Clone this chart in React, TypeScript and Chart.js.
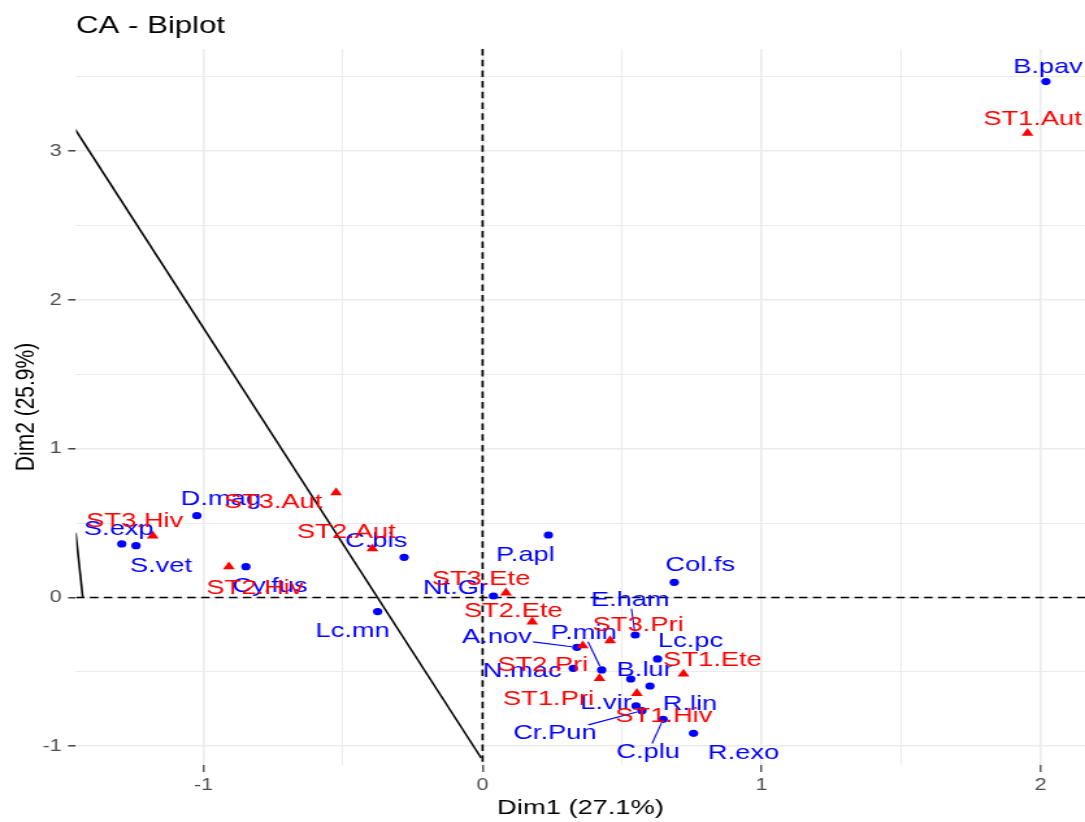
import { useEffect, useRef } from "react";
import { Chart, registerables } from "chart.js";

Chart.register(...registerables);

// The canvas is drawn at a narrower internal width and shown stretched to 1085px.
const CANVAS_W = 835;
const CANVAS_H = 822;
const SX = 1085 / CANVAS_W;

const FONT = '"Liberation Sans", Arial, Helvetica, sans-serif';

// Row points (species): coordinates on Dim1 / Dim2
const rowNames = [
  "B.pav", "D.mag", "S.exp", "S.vet", "Cy.fus", "C.bis", "Lc.mn", "Nt.Gr", "P.apl", "Col.fs", "E.ham",
  "A.nov", "P.min", "N.mac", "B.lur", "Lc.pc", "R.lin", "L.vir", "Cr.Pun", "C.plu", "R.exo",
];
const rowDim1 = [
  2.019, -1.024, -1.293, -1.242, -0.848, -0.281, -0.376, 0.039, 0.236, 0.687, 0.547,
  0.338, 0.427, 0.325, 0.531, 0.627, 0.6, 0.55, 0.571, 0.647, 0.756,
];
const rowDim2 = [
  3.468, 0.55, 0.36, 0.348, 0.207, 0.27, -0.095, 0.01, 0.42, 0.102, -0.252,
  -0.335, -0.487, -0.476, -0.548, -0.413, -0.595, -0.729, -0.761, -0.819, -0.913,
];

// Column points (station x season)
const colNames = [
  "ST1.Aut", "ST3.Aut", "ST3.Hiv", "ST2.Hiv", "ST2.Aut", "ST3.Ete", "ST2.Ete", "ST3.Pri",
  "ST2.Pri", "ST1.Pri", "ST1.Hiv", "ST1.Ete",
];
const colDim1 = [1.953, -0.525, -1.182, -0.909, -0.395, 0.084, 0.178, 0.457, 0.359, 0.419, 0.553, 0.72];
const colDim2 = [3.121, 0.705, 0.415, 0.207, 0.328, 0.032, -0.163, -0.29, -0.324, -0.543, -0.644, -0.514];

// Two reference segments (Dim1, Dim2 end points)
const segA_x = [-1.461, -0.005];
const segA_y = [3.15, -1.079];
const segB_x = [-1.458, -1.433];
const segB_y = [0.434, 0.003];

// Axis extents and tick values
const X_RANGE = [-1.457, 2.159];
const Y_RANGE = [-1.126, 3.687];
const xGridValues = [-1, -0.5, 0, 0.5, 1, 1.5, 2];
const yGridValues = [-1, -0.5, 0, 0.5, 1, 1.5, 2, 2.5, 3, 3.5];

// Repelled label placement: offset of label centre from its point (screen px)
const rowLabelOffset: Record<string, [number, number]> = {
  "B.pav": [2, -14], "D.mag": [24, -16], "S.exp": [-3, -15], "S.vet": [25, 20], "Cy.fus": [24, 20],
  "C.bis": [-28, -16], "Lc.mn": [-25, 20], "Nt.Gr": [-38, -8], "P.apl": [-23, 20], "Col.fs": [26, -17],
  "E.ham": [-5, -35], "A.nov": [-80, -10], "P.min": [-18, -37], "N.mac": [-51, 3], "B.lur": [14, -9],
  "Lc.pc": [33, -18], "R.lin": [40, 18], "L.vir": [-30, -3], "Cr.Pun": [-87, 23], "C.plu": [-15, 33],
  "R.exo": [50, 20],
};
const colLabelOffset: Record<string, [number, number]> = {
  "ST1.Aut": [5, -14], "ST3.Aut": [-63, 10], "ST3.Hiv": [-18, -15], "ST2.Hiv": [26, 22],
  "ST2.Aut": [-26, -16], "ST3.Ete": [-25, -14], "ST2.Ete": [-19, -11], "ST3.Pri": [28, -15],
  "ST2.Pri": [-40, 20], "ST1.Pri": [-51, 21], "ST1.Hiv": [27, 23], "ST1.Ete": [29, -14],
};
const withLeader = new Set(["E.ham", "A.nov", "P.min", "Cr.Pun", "C.plu"]);

const ROW_COLOR = "#0000FF";
const COL_COLOR = "#FF0000";
const LABEL_SIZE = 21;

const isMajor = (v: number) => Math.abs(v - Math.round(v)) < 1e-9;

function drawLabels(chart: any, names: string[], xs: number[], ys: number[], offs: Record<string, [number, number]>, color: string) {
  const { ctx, scales } = chart;
  ctx.save();
  ctx.font = `${LABEL_SIZE}px ${FONT}`;
  ctx.fillStyle = color;
  ctx.strokeStyle = color;
  ctx.lineWidth = 1.1;
  ctx.textAlign = "center";
  ctx.textBaseline = "middle";
  names.forEach((name, i) => {
    const px = scales.x.getPixelForValue(xs[i]);
    const py = scales.y.getPixelForValue(ys[i]);
    const off = offs[name] || [0, 0];
    const lx = px + off[0] / SX;
    const ly = py + off[1];
    if (withLeader.has(name)) {
      const hw = ctx.measureText(name).width / 2 + 1;
      const hh = LABEL_SIZE * 0.42;
      const dx = px - lx;
      const dy = py - ly;
      const t = Math.min(dx !== 0 ? hw / Math.abs(dx) : Infinity, dy !== 0 ? hh / Math.abs(dy) : Infinity);
      const sx = lx + dx * t;
      const sy = ly + dy * t;
      const len = Math.hypot(dx, dy);
      const ex = px - (dx / len) * 4;
      const ey = py - (dy / len) * 4;
      ctx.beginPath();
      ctx.moveTo(sx, sy);
      ctx.lineTo(ex, ey);
      ctx.stroke();
    }
    ctx.fillText(name, lx, ly);
  });
  ctx.restore();
}

const biplotDecor = {
  id: "biplotDecor",
  beforeDatasetsDraw(chart: any) {
    const { ctx, chartArea: a, scales } = chart;
    const x0 = scales.x.getPixelForValue(0);
    const y0 = scales.y.getPixelForValue(0);
    ctx.save();
    ctx.beginPath();
    ctx.rect(a.left, a.top, a.right - a.left, a.bottom - a.top);
    ctx.clip();
    ctx.strokeStyle = "#000";
    ctx.lineWidth = 1.7;
    ctx.setLineDash([6.5, 4.2]);
    ctx.beginPath();
    ctx.moveTo(x0, a.top);
    ctx.lineTo(x0, a.bottom);
    ctx.stroke();
    ctx.beginPath();
    ctx.moveTo(a.left, y0);
    ctx.lineTo(a.right, y0);
    ctx.stroke();
    ctx.restore();
  },
  afterDatasetsDraw(chart: any) {
    drawLabels(chart, rowNames, rowDim1, rowDim2, rowLabelOffset, ROW_COLOR);
    drawLabels(chart, colNames, colDim1, colDim2, colLabelOffset, COL_COLOR);
  },
  afterDraw(chart: any) {
    const { ctx, chartArea } = chart;
    ctx.save();
    ctx.font = `24px ${FONT}`;
    ctx.fillStyle = "#000";
    ctx.textAlign = "left";
    ctx.textBaseline = "alphabetic";
    ctx.fillText("CA - Biplot", chartArea.left, 33);
    ctx.restore();
  },
};

export default function App() {
  const canvasRef = useRef<HTMLCanvasElement>(null);

  useEffect(() => {
    const canvas = canvasRef.current;
    if (!canvas) return;

    const tickFont = { family: FONT, size: 16.5 };
    const titleFont = { family: FONT, size: 21 };

    const chart = new Chart(canvas, {
      type: "scatter",
      data: {
        datasets: [
          {
            label: "rows",
            data: rowDim1.map((v, i) => ({ x: v, y: rowDim2[i] })),
            pointStyle: "circle",
            pointRadius: 3.6,
            pointBackgroundColor: ROW_COLOR,
            pointBorderWidth: 0,
            order: 2,
          },
          {
            label: "columns",
            data: colDim1.map((v, i) => ({ x: v, y: colDim2[i] })),
            pointStyle: "triangle",
            pointRadius: 5.3,
            pointBackgroundColor: COL_COLOR,
            pointBorderWidth: 0,
            order: 1,
          },
          {
            label: "segA",
            data: segA_x.map((v, i) => ({ x: v, y: segA_y[i] })),
            showLine: true,
            borderColor: "#000",
            borderWidth: 1.6,
            pointRadius: 0,
            order: 3,
          },
          {
            label: "segB",
            data: segB_x.map((v, i) => ({ x: v, y: segB_y[i] })),
            showLine: true,
            borderColor: "#000",
            borderWidth: 1.6,
            pointRadius: 0,
            order: 3,
          },
        ],
      },
      options: {
        responsive: false,
        devicePixelRatio: 1,
        animation: false,
        events: [],
        layout: { autoPadding: false, padding: { top: 49, left: 0, right: 0, bottom: 0 } },
        plugins: {
          legend: { display: false },
          tooltip: { enabled: false },
          title: { display: false },
        },
        scales: {
          x: {
            type: "linear",
            min: X_RANGE[0],
            max: X_RANGE[1],
            afterBuildTicks: (s: any) => {
              s.ticks = xGridValues.map((v) => ({ value: v }));
            },
            afterFit: (s: any) => {
              s.height = 57;
            },
            ticks: {
              autoSkip: false,
              maxRotation: 0,
              padding: 4,
              color: "#4D4D4D",
              font: tickFont,
              callback: (v: any) => (isMajor(Number(v)) ? String(v) : ""),
            },
            grid: {
              color: "#EBEBEB",
              lineWidth: (c: any) => (isMajor(c.tick?.value ?? 0) ? 1.6 : 1.0),
              drawTicks: true,
              tickLength: 7,
              tickWidth: 1.2,
              tickColor: (c: any) => (isMajor(c.tick?.value ?? 0) ? "#333333" : "rgba(0,0,0,0)"),
            },
            border: { display: false },
            title: {
              display: true,
              text: "Dim1 (27.1%)",
              color: "#000",
              font: titleFont,
              padding: { top: 0, bottom: 1 },
            },
          },
          y: {
            type: "linear",
            min: Y_RANGE[0],
            max: Y_RANGE[1],
            afterBuildTicks: (s: any) => {
              s.ticks = yGridValues.map((v) => ({ value: v }));
            },
            afterFit: (s: any) => {
              s.width = 76 / SX;
            },
            ticks: {
              autoSkip: false,
              padding: 5,
              color: "#4D4D4D",
              font: tickFont,
              callback: (v: any) => (isMajor(Number(v)) ? String(v) : ""),
            },
            grid: {
              color: "#EBEBEB",
              lineWidth: (c: any) => (isMajor(c.tick?.value ?? 0) ? 1.6 : 1.0),
              drawTicks: true,
              tickLength: 6,
              tickWidth: 1.4,
              tickColor: (c: any) => (isMajor(c.tick?.value ?? 0) ? "#333333" : "rgba(0,0,0,0)"),
            },
            border: { display: false },
            title: {
              display: true,
              text: "Dim2 (25.9%)",
              color: "#000",
              font: titleFont,
              padding: { top: 8, bottom: 0 },
            },
          },
        },
      } as any,
      plugins: [biplotDecor],
    });

    return () => chart.destroy();
  }, []);

  return (
    <div style={{ position: "fixed", left: 0, top: 0, width: 1085, height: 822, background: "#fff" }}>
      <canvas
        ref={canvasRef}
        width={CANVAS_W}
        height={CANVAS_H}
        style={{ display: "block", width: "1085px", height: "822px" }}
      />
    </div>
  );
}
